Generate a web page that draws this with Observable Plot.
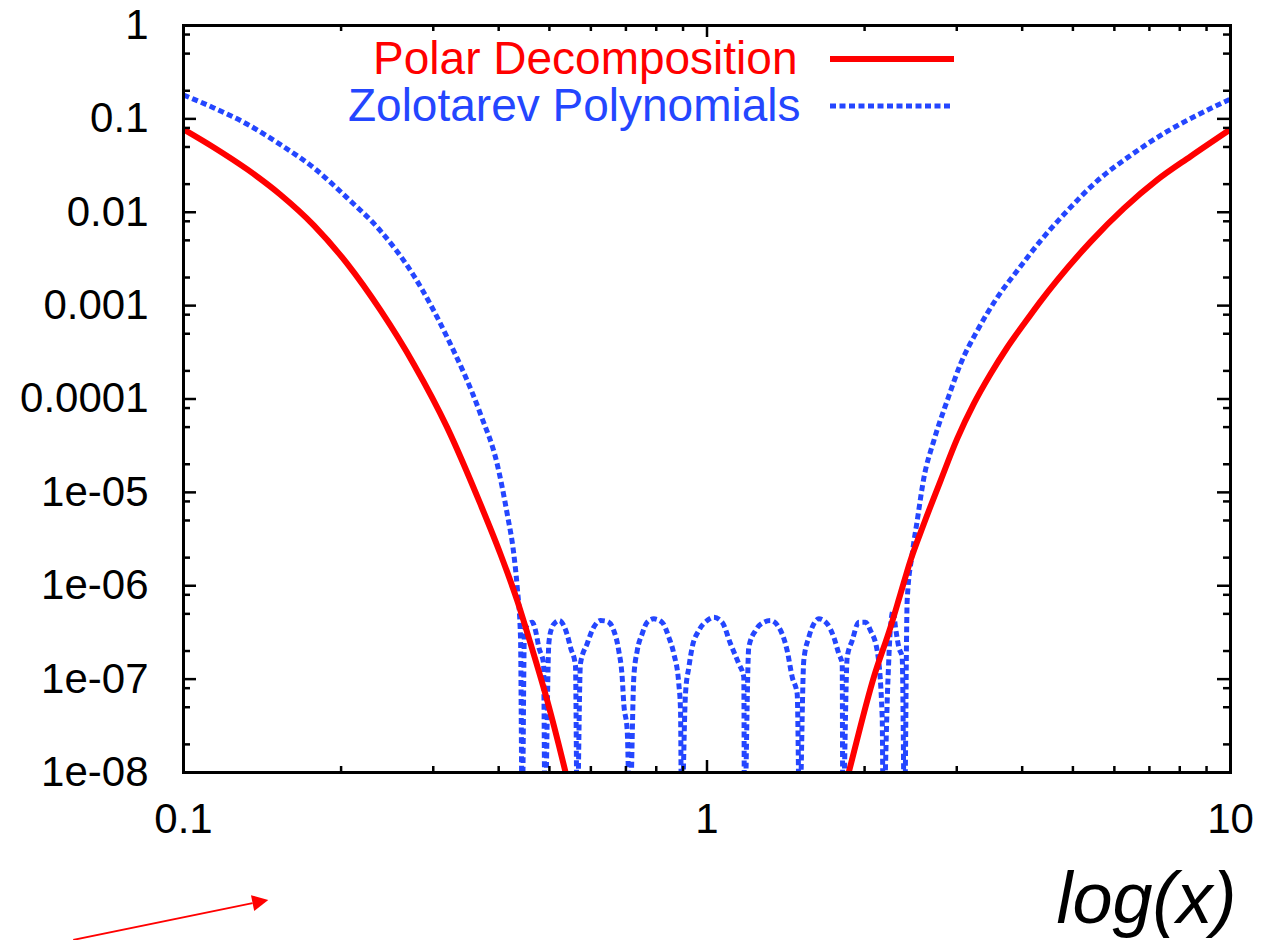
<!DOCTYPE html>
<html>
<head>
<meta charset="utf-8">
<script src="https://cdn.jsdelivr.net/npm/d3@7"></script>
<script src="https://cdn.jsdelivr.net/npm/@observablehq/plot@0.6"></script>
<style>
  html, body { margin: 0; padding: 0; background: #fff; }
  #chart svg { display: block; }
</style>
</head>
<body>
<div id="chart"></div>
<script>
// ---- tick values and labels ----
const xMajorTicks = [0.1, 1, 10];
const xMajorLabels = ["0.1", "1", "10"];
const xMinorTicks = [0.2, 0.3, 0.4, 0.5, 0.6, 0.7, 0.8, 0.9, 2, 3, 4, 5, 6, 7, 8, 9];
const yMajorTicks = [1, 0.1, 0.01, 0.001, 0.0001, 1e-5, 1e-6, 1e-7, 1e-8];
const yMajorLabels = ["1", "0.1", "0.01", "0.001", "0.0001", "1e-05", "1e-06", "1e-07", "1e-08"];
const yMinorTicks = [0.8, 0.5, 0.2, 0.08, 0.05, 0.02, 0.008, 0.005, 0.002,
  8e-4, 5e-4, 2e-4, 8e-5, 5e-5, 2e-5, 8e-6, 5e-6, 2e-6, 8e-7, 5e-7, 2e-7, 8e-8, 5e-8, 2e-8];

// ---- series ----
const seriesNames = ["Polar Decomposition", "Zolotarev Polynomials"];
const axisTitle = "log(x)";

// Polar decomposition, left branch [x, error]
const polarLeft = [
  [0.1, 0.0774], [0.1143, 0.04946], [0.1324, 0.02876], [0.1532, 0.01542],
  [0.1774, 0.00725], [0.2054, 0.002817], [0.2378, 8.93e-4], [0.2754, 2.36e-4],
  [0.319, 4.94e-5], [0.3692, 7.47e-6], [0.4031, 2.19e-6], [0.434, 6.93e-7],
  [0.4602, 2.4e-7], [0.4952, 5.9e-8], [0.5367, 1.01e-8], [0.5485, 6.1e-9]
];
// Polar decomposition, right branch
const polarRight = [
  [1.823, 6.1e-9], [1.866, 1.01e-8], [2.083, 1.05e-7], [2.241, 3.59e-7],
  [2.342, 8.18e-7], [2.447, 1.86e-6], [2.595, 4.59e-6], [2.793, 1.33e-5],
  [3.006, 3.76e-5], [3.234, 8.9e-5], [3.48, 1.85e-4], [3.745, 3.56e-4],
  [4.029, 6.34e-4], [4.336, 1.112e-3], [4.667, 1.875e-3], [5.403, 4.82e-3],
  [6.256, 0.011], [7.244, 0.02221], [8.387, 0.03963], [10, 0.0774]
];
// Zolotarev polynomials (values below 1e-8 fall under the axis)
const zolotarev = [
  [0.1, 0.1804], [0.1143, 0.1309], [0.1324, 0.0876], [0.1532, 0.053],
  [0.1774, 0.02985], [0.2054, 0.01425], [0.2378, 0.00632], [0.2754, 0.00209],
  [0.319, 4.56e-4], [0.3692, 6.9e-5], [0.3974, 2.01e-5], [0.4153, 5.87e-6],
  [0.4275, 2.19e-6], [0.434, 9.62e-7], [0.4403, 2.81e-7], [0.4436, 3e-9],
  [0.4481, 3.31e-7], [0.456, 3.9e-7], [0.4636, 4.06e-7], [0.4704, 3.31e-7],
  [0.4773, 2.19e-7], [0.4873, 1.47e-7], [0.4904, 3e-9], [0.4987, 2.39e-7],
  [0.5047, 3.48e-7], [0.5136, 4.06e-7], [0.5227, 4.24e-7], [0.5326, 3.74e-7],
  [0.5413, 2.93e-7], [0.5485, 2.19e-7], [0.5607, 1.4e-7], [0.5649, 3e-9],
  [0.5731, 1.46e-7], [0.5902, 2.39e-7], [0.6076, 3.59e-7], [0.6259, 4.24e-7],
  [0.6448, 4.16e-7], [0.6637, 3.31e-7], [0.6783, 2.02e-7], [0.6886, 1.05e-7],
  [0.6935, 5.44e-8], [0.704, 2.82e-8], [0.7121, 3e-9], [0.7248, 1.05e-7],
  [0.7358, 2.02e-7], [0.7518, 3.05e-7], [0.7686, 4.06e-7], [0.7915, 4.42e-7],
  [0.821, 4.06e-7], [0.8454, 2.81e-7], [0.8642, 1.87e-7], [0.8834, 8.9e-8],
  [0.8901, 4.61e-8], [0.894, 3e-9], [0.9097, 6.96e-8], [0.9232, 1.34e-7],
  [0.9369, 2.19e-7], [0.9645, 3.31e-7], [1.0009, 4.24e-7], [1.0304, 4.59e-7],
  [1.0691, 4.06e-7], [1.1089, 2.39e-7], [1.1501, 1.46e-7], [1.1757, 1.05e-7],
  [1.1792, 3e-9], [1.2016, 2.19e-7], [1.2377, 3.31e-7], [1.2838, 4.06e-7],
  [1.3222, 4.24e-7], [1.3715, 3.59e-7], [1.4229, 2.02e-7], [1.4547, 1.05e-7],
  [1.4869, 6.96e-8], [1.502, 3e-9], [1.5307, 1.58e-7], [1.5649, 2.81e-7],
  [1.5996, 3.91e-7], [1.6353, 4.42e-7], [1.6967, 3.91e-7], [1.7467, 2.81e-7],
  [1.7857, 1.87e-7], [1.8126, 1.46e-7], [1.8172, 3e-9], [1.8527, 1.71e-7],
  [1.894, 2.59e-7], [1.9498, 4.06e-7], [2.008, 4.06e-7], [2.0524, 3.31e-7],
  [2.1138, 2.02e-7], [2.1611, 3.91e-8], [2.1706, 3e-9], [2.215, 8.9e-8],
  [2.2411, 3.59e-7], [2.2681, 5.42e-7], [2.2912, 3.59e-7], [2.3248, 2.19e-7],
  [2.3598, 1.71e-7], [2.3838, 3e-9], [2.412, 6.93e-7], [2.466, 2.19e-6],
  [2.521, 4.98e-6], [2.594, 1.4e-5], [2.712, 3.58e-5], [2.876, 9.58e-5],
  [3.05, 2.37e-4], [3.282, 5.38e-4], [3.584, 1.22e-3], [3.913, 2.36e-3],
  [4.336, 4.94e-3], [4.877, 0.01035], [5.565, 0.02167], [6.442, 0.0406],
  [7.569, 0.0734], [8.764, 0.1143], [10, 0.1634]
];
// Red annotation arrow (data units, lies in the lower margin)
const annotationArrow = [{x1: 0.0617, y1: 1.59e-10, x2: 0.1455, y2: 4.27e-10}];

// ---- styling ----
const RED = "#ff0000", BLUE = "#2446ff";
const FONT = "'Liberation Sans', Arial, Helvetica, sans-serif";
const W = 1272, H = 940, ML = 183, MR = 42, MT = 25, MB = 168;
const IW = W - ML - MR, IH = H - MT - MB;
const DASH = "6,3.5";
const RED_W = 6, BLUE_W = 5, FRAME_W = 3;

function legendSamples(index, scales, values, dims) {
  const g = d3.create("svg:g");
  const l = dims.marginLeft, t = dims.marginTop;
  g.append("line").attr("x1", l + 647).attr("x2", l + 771).attr("y1", t + 34).attr("y2", t + 34)
    .attr("stroke", RED).attr("stroke-width", RED_W);
  g.append("line").attr("x1", l + 647).attr("x2", l + 767).attr("y1", t + 81).attr("y2", t + 81)
    .attr("stroke", BLUE).attr("stroke-width", BLUE_W).attr("stroke-dasharray", DASH);
  return g.node();
}

function arrowMark(index, scales) {
  const g = d3.create("svg:g");
  for (const a of annotationArrow) {
    const x1 = scales.x(a.x1), y1 = scales.y(a.y1), x2 = scales.x(a.x2), y2 = scales.y(a.y2);
    const ang = Math.atan2(y2 - y1, x2 - x1);
    const L = 16, hw = 8;
    const bx = x2 - L * Math.cos(ang), by = y2 - L * Math.sin(ang);
    const px = -Math.sin(ang) * hw, py = Math.cos(ang) * hw;
    g.append("line").attr("x1", x1).attr("y1", y1).attr("x2", bx).attr("y2", by)
      .attr("stroke", RED).attr("stroke-width", 1.8);
    g.append("path").attr("d", `M${x2},${y2}L${bx + px},${by + py}L${bx - px},${by - py}Z`).attr("fill", RED);
  }
  return g.node();
}

const fx = (labels, ticks) => d => labels[ticks.indexOf(d)];

const chart = Plot.plot({
  width: W, height: H,
  marginLeft: ML, marginRight: MR, marginTop: MT, marginBottom: MB,
  x: {type: "log", domain: [0.1, 10]},
  y: {type: "log", domain: [1e-8, 1]},
  style: {fontFamily: FONT, background: "#fff", color: "#000", overflow: "visible"},
  marks: [
    Plot.line(zolotarev, {x: d => d[0], y: d => d[1], stroke: BLUE, strokeWidth: BLUE_W,
      strokeDasharray: DASH, curve: "monotone-x", clip: true}),
    Plot.line(polarLeft, {x: d => d[0], y: d => d[1], stroke: RED, strokeWidth: RED_W,
      curve: "monotone-x", clip: true}),
    Plot.line(polarRight, {x: d => d[0], y: d => d[1], stroke: RED, strokeWidth: RED_W,
      curve: "monotone-x", clip: true}),
    // ticks (inward, mirrored)
    Plot.tickX(xMajorTicks, {x: d => d, insetTop: IH - 12, stroke: "#000", strokeWidth: 2.5}),
    Plot.tickX(xMajorTicks, {x: d => d, insetBottom: IH - 12, stroke: "#000", strokeWidth: 2.5}),
    Plot.tickX(xMinorTicks, {x: d => d, insetTop: IH - 6, stroke: "#000", strokeWidth: 2.5}),
    Plot.tickX(xMinorTicks, {x: d => d, insetBottom: IH - 6, stroke: "#000", strokeWidth: 2.5}),
    Plot.tickY(yMajorTicks, {y: d => d, insetRight: IW - 13, stroke: "#000", strokeWidth: 2.5}),
    Plot.tickY(yMajorTicks, {y: d => d, insetLeft: IW - 13, stroke: "#000", strokeWidth: 2.5}),
    Plot.tickY(yMinorTicks, {y: d => d, insetRight: IW - 7, stroke: "#000", strokeWidth: 2.5}),
    Plot.tickY(yMinorTicks, {y: d => d, insetLeft: IW - 7, stroke: "#000", strokeWidth: 2.5}),
    Plot.frame({stroke: "#000", strokeWidth: FRAME_W}),
    Plot.axisX(xMajorTicks, {tickSize: 0, tickPadding: 31, tickFormat: fx(xMajorLabels, xMajorTicks),
      fontSize: 42, label: null}),
    Plot.axisY(yMajorTicks, {tickSize: 0, tickPadding: 35, tickFormat: fx(yMajorLabels, yMajorTicks),
      fontSize: 42, label: null}),
    // legend
    Plot.text([seriesNames[0]], {text: d => d, frameAnchor: "top-left", dx: 614, dy: 48,
      textAnchor: "end", lineAnchor: "bottom", fill: RED, fontSize: 46}),
    Plot.text([seriesNames[1]], {text: d => d, frameAnchor: "top-left", dx: 617, dy: 95,
      textAnchor: "end", lineAnchor: "bottom", fill: BLUE, fontSize: 46}),
    legendSamples,
    // axis title
    Plot.text([axisTitle], {text: d => d, frameAnchor: "bottom-right", dx: 6, dy: 150,
      textAnchor: "end", lineAnchor: "bottom", fontSize: 72, fontStyle: "italic", fill: "#000"}),
    arrowMark
  ]
});

// make sure line widths / dash patterns are set on the rendered elements
const svgSel = d3.select(chart);
const lineGroups = svgSel.selectAll('g[aria-label="line"]').nodes();
lineGroups.forEach((g, i) => {
  const sel = d3.select(g).selectAll("path");
  if (i === 0) sel.attr("stroke-width", BLUE_W).attr("stroke-dasharray", DASH).attr("stroke-linecap", "butt");
  else sel.attr("stroke-width", RED_W);
});
svgSel.selectAll('g[aria-label="tick"] line').attr("stroke-width", 2.5);
svgSel.selectAll('rect[aria-label="frame"], g[aria-label="frame"] rect').attr("stroke-width", FRAME_W);

document.getElementById("chart").appendChild(chart);
</script>
</body>
</html>
